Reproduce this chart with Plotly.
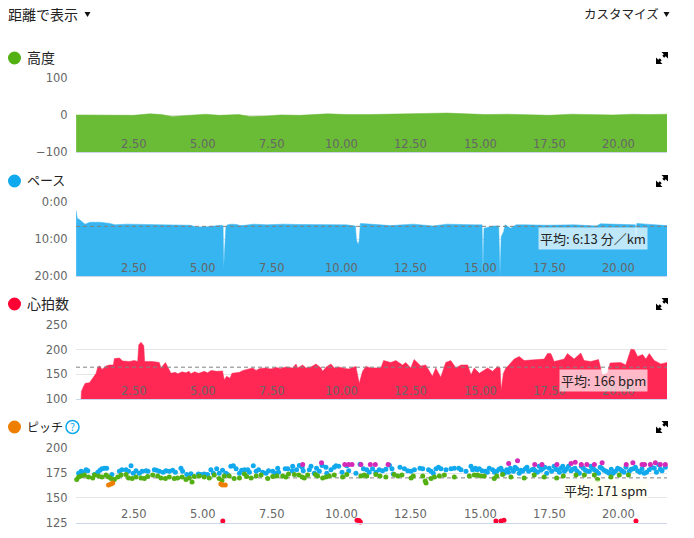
import plotly.graph_objects as go

W, H = 694, 538
X_RANGE = [0.425, 21.74]
TICKS_X = [2.5, 5, 7.5, 10, 12.5, 15, 17.5, 20]
TICK_X_TEXT = ["2.50", "5.00", "7.50", "10.00", "12.50", "15.00", "17.50", "20.00"]

elev_km = [.43,1,1.5,2,2.5,3.1,3.5,3.9,4.5,5.1,5.6,6.3,6.7,7.3,7.8,8.5,9.5,10.2,11,11.7,12.4,13,13.8,14.5,15.2,16,16.8,17.5,18.3,19,19.8,20.5,21.1,21.74]
elev_m = [1,1,2,1,0,4,2,-3,0,3,0,2,-3,-2,1,0,4,2,2,4,4,5,6,4,2,3,1,0,3,2,1,3,2,3]

pace_km = [.43,.47,.57,.75,.93,1.29,1.65,1.83,2.25,2.85,3.69,4.54,4.78,5.14,5.68,5.73,5.75,5.77,5.83,5.89,6.04,6.22,6.34,6.52,6.82,7.3,7.9,8.5,9.22,10.18,
           10.5,10.54,10.6,10.64,10.68,10.92,11.4,11.76,12.6,13.3,13.8,14.8,15.07,15.1,15.14,15.49,15.67,15.72,15.76,15.85,15.9,16.1,16.3,16.65,17.4,18.4,19.2,19.34,20.5,20.6,20.63,20.65,21,21.74]
pace_min = [2.25,4.3,4.8,5.9,5.4,5.4,5.7,6.1,5.9,6.0,6.2,6.2,6.7,6.6,6.2,6.4,18,15,6.8,6.1,5.9,6.0,6.3,6.2,5.9,6.1,5.9,6.0,6.1,6.1,
            6.4,10.2,11.5,10.3,5.7,5.9,6.1,6.3,5.9,6.4,5.9,6.1,6.1,20,7,6.4,6.4,20,9.3,7.9,6.1,7,6.1,6.1,6.2,6.1,6.4,5.8,6.1,6.1,12.2,5.7,5.9,6.3]

hr_km = [.61,.62,.69,.76,.91,1.03,1.15,1.21,1.29,1.36,1.51,1.63,1.77,1.81,1.99,2.11,2.35,2.53,2.65,2.69,2.77,2.87,2.90,3.19,3.43,3.49,3.65,3.79,3.85,4.0,4.1,4.25,4.39,4.5,4.57,4.7,4.85,5.05,5.17,5.3,5.5,5.71,5.77,5.86,5.98,6.05,6.32,6.45,6.56,6.7,6.80,6.92,7.05,7.28,7.45,7.64,7.8,8.0,8.24,8.36,8.42,8.60,8.72,8.9,9.08,9.26,9.32,9.45,9.62,9.74,9.9,10.04,10.25,10.52,10.64,10.76,10.88,
         11.06,11.42,11.52,11.78,11.96,12.20,12.32,12.50,12.62,12.86,13.04,13.22,13.28,13.40,13.58,13.76,13.94,14.13,14.31,14.55,14.67,14.79,14.97,15.27,15.45,15.63,15.72,15.76,15.84,15.93,15.99,16.23,16.41,16.59,16.95,17.31,17.43,17.55,17.67,18.03,18.15,18.39,18.63,18.75,18.99,19.27,19.41,19.59,19.69,20.07,20.25,20.44,20.56,20.68,20.86,20.98,21.10,21.28,21.52,21.74]
hr_bpm = [100,115,125,132,133,142,152,165,167,160,167,169,169,182,183,177,176,178,176,210,215,208,176,176,174,163,174,159,152,154,151,155,153,156,151,155,152,156,153,158,156,157,139,146,142,152,154,158,160,162,163,158,162,163,161,164,162,165,163,171,163,169,163,165,171,163,156,165,171,163,165,163,161,166,132,156,166,
          163,163,178,174,178,169,174,163,180,167,169,152,146,163,144,174,178,163,169,169,149,163,152,163,156,166,163,118,152,163,166,181,186,178,180,181,192,192,176,181,192,181,193,178,176,180,149,152,173,174,169,201,200,186,190,181,192,178,171,174]

blue_km = [.52,.61,.69,.79,.85,1.09,1.21,1.29,1.36,1.45,1.53,1.72,1.99,2.08,2.23,2.32,2.41,2.49,2.59,2.71,2.81,2.95,3.02,3.25,3.33,3.43,3.57,3.67,3.79,3.91,4.01,4.21,4.27,4.42,4.57,4.84,4.93,5.05,5.17,5.29,5.38,5.50,5.59,5.71,5.83,5.89,6.01,6.10,6.20,6.32,6.40,6.50,6.62,6.68,6.82,6.92,7.01,7.16,7.28,7.37,7.52,7.61,
           7.70,7.73,7.97,8.06,8.22,8.24,8.38,8.48,8.58,8.62,8.84,8.90,9.02,9.10,9.20,9.30,9.44,9.47,9.62,9.74,9.80,9.90,10.02,10.19,10.26,10.52,10.67,10.79,10.91,11.00,11.12,11.24,11.36,11.48,11.60,11.73,11.82,11.87,12.11,12.27,12.39,12.51,12.63,12.83,12.93,13.14,13.23,13.31,13.41,13.50,13.59,13.77,13.95,14.07,14.23,14.31,14.49,14.67,14.73,14.83,
           14.89,14.97,15.07,15.19,15.33,15.45,15.60,15.75,15.87,15.96,16.09,16.20,16.32,16.41,16.53,16.63,16.75,16.87,16.99,17.13,17.25,17.40,17.49,17.67,17.79,17.92,18.04,18.19,18.28,18.42,18.58,18.72,18.88,19.00,19.12,19.27,19.39,19.54,19.66,19.80,19.96,20.11,20.26,20.38,20.52,20.68,20.84,20.92,21.10,21.28,21.44,21.56,21.68,
           15.26,15.52,15.68,15.81,16.02,16.26,16.47,16.69,16.93,17.06,17.19,17.33,17.58,17.73,17.86,17.98,18.11,18.34,18.50,18.65,18.80,18.94,19.06,19.20,19.33,19.47,19.60,19.73,19.88,20.04,20.19,20.45,20.60,20.76,21.00,21.19,21.36,21.50]
blue_spm = [175,177,176,178.5,177.5,173.5,176,178,179.5,180,180,173.5,177,178.5,178.5,177,182.5,175,177.5,175,177,177.5,177,178.5,178,177,176,177.5,177,178,176,180,177,173.5,174.5,174,173.5,174,173.5,178.5,175,179.5,175,178,175,173.5,182,182.5,179.5,175,178,178.5,178.5,176,182.5,177,178.5,176,175,177.5,177,175,
            180,176,179.5,179.5,177.5,182,178.5,182.8,181,177.5,178.5,182,175,180,177,182.8,181,175,178.5,181,182.5,182,176,182.5,177.5,175,184,179.5,178.5,176,179.5,176,178.5,177.5,179,183,179.5,174,181,179.5,177.5,177,178.5,180,179.5,178.5,177,175,179.5,181,179.5,178.5,179.5,180,180,178.5,177,182,178.5,180,
            178.5,179.5,177.5,177,180,178.5,177,180,175,178.5,180,177,179.5,175,177,179.5,177,178.5,177.5,182,179.5,175,180,182,178.5,180,177,182,177.5,180,175,180,177,182,178.5,175,180,177,175,175,180,177.5,181,177,179.5,177.5,179.5,175,178.5,180,183.5,177.5,181,
            176,176,179,177,176,181,178,181,179,176,178,181,177,179,176,182,179,179,177,182,178,177,180,177,181,178,176,179,177,179,176,179,181,176,176,181,176,179]

green_km = [.45,.52,.61,.73,.88,1.03,1.09,1.24,1.36,1.51,1.60,1.69,1.81,1.93,2.05,2.23,2.32,2.45,2.59,2.77,2.89,3.01,3.19,3.37,3.49,3.65,3.79,3.97,4.09,4.25,4.39,4.51,4.61,4.69,4.87,5.05,5.23,5.41,5.59,5.69,5.77,5.95,6.13,6.32,6.50,6.58,6.74,6.92,7.10,7.34,7.52,
            7.67,7.88,8.00,8.09,8.30,8.46,8.58,8.66,8.78,9.06,9.14,9.32,9.44,9.56,9.74,10.04,10.19,10.70,10.82,10.91,11.24,11.39,11.60,11.90,12.03,12.18,12.51,12.59,12.93,13.02,13.05,13.23,13.35,13.53,13.71,14.07,14.61,14.79,
            14.91,15.03,15.15,15.51,15.60,15.81,16.11,16.59,16.95,17.31,17.76,18.00,18.46,18.76,19.12,19.24,19.72,20.02,20.35]
green_spm = [168.5,171,172,173,171,170,173,172,171,173,171,169.5,168.5,171,173,173.5,170,169.5,171,170,169.5,171.5,173,172,170,169.5,171,169.5,170,171,168.5,170,166,171.5,172,171,170,173,169.5,167.5,172,172,169.5,170,174,171.5,170,172,173,169.5,171.5,
             172,172,171,174,173.5,173,171,170,173,173.5,172,170,171,172,173,171,173.5,172,173,172,173.5,172,171,173.5,172,173,170,172,172,167,165,169.5,171,172,173,171,172,173,
             173,172,172,169.5,172,173.5,171,170,173,171,170,172,173,173,173,168.5,171,173,173]

magenta_km = [8.60,9.28,10.12,10.26,10.38,10.70,11.04,11.22,11.68,16.03,16.35,16.97,17.23,17.77,18.28,18.43,18.65,18.85,19.12,19.40,20.27,20.51,20.84,20.93,21.14,21.32,21.50,21.68]
magenta_spm = [183.8,185.5,183.8,183.8,183.8,183.8,183.8,183.8,183.8,184.8,187.5,183.8,183.8,183.8,184.8,186,183.8,183.8,183.8,185.5,183.8,185.5,183.8,183.8,183.8,185.5,183.8,183.8]
orange_km = [1.60,1.69,1.75,5.65,5.71,5.81]
orange_spm = [163,164,165,164,163,163]
red_km = [5.72,10.56,10.63,10.68,15.57,15.75,15.86,20.62]
red_spm = [126.6,127.5,127,125.5,126.5,126.5,127.5,126.5]

COL_ELEV, COL_PACE, COL_HR = "#6abb36", "#36b5f0", "#ff2855"
GREEN, BLUE, RED, ORANGE, MAGENTA = "#52b013", "#11a9ed", "#ff0035", "#ed7e00", "#d42ab8"
LAT = "DejaVu Sans, Noto Sans CJK JP"
JP = "Noto Sans CJK JP"

def paper(px, py):
    return px / W, 1 - py / H

def ax(letter, i):
    return letter if i == 1 else f"{letter}{i}"

panels = [
    dict(top=78.3, bot=152.3, rng=[-100, 100], vals=[-100, 0, 100], text=["−100", "0", "100"]),
    dict(top=202.3, bot=276.3, rng=[20, 0], vals=[0, 10, 20], text=["0:00", "10:00", "20:00"]),
    dict(top=325, bot=399, rng=[100, 250], vals=[100, 150, 200, 250], text=["100", "150", "200", "250"]),
    dict(top=448.4, bot=522.6, rng=[125, 200], vals=[125, 150, 175, 200], text=["125", "150", "175", "200"]),
]

fig = go.Figure()
lay = dict(width=W, height=H, margin=dict(l=0, r=0, t=0, b=0), paper_bgcolor="white", plot_bgcolor="white",
           showlegend=False, hovermode=False, font=dict(family=LAT, color="#666666"))
shapes, anns = [], []
for i, p in enumerate(panels, 1):
    lay[f"xaxis{i}"] = dict(domain=[76 / W, 667 / W], range=X_RANGE, anchor=ax("y", i), tickvals=TICKS_X, showticklabels=False,
                            ticks="", showgrid=False, zeroline=False, showline=True, automargin=False,
                            linecolor="#ccd6eb", linewidth=1)
    lay[f"yaxis{i}"] = dict(domain=[1 - p["bot"] / H, 1 - p["top"] / H], range=p["rng"], anchor=ax("x", i), tickvals=p["vals"],
                            ticktext=p["text"], showgrid=True, gridcolor="#e6e6e6", gridwidth=1, zeroline=False, showline=False,
                            automargin=False, ticks="outside", ticklen=5, tickcolor="rgba(0,0,0,0)",
                            tickfont=dict(size=11.5, color="#666666", family=LAT))
    for v, t in zip(TICKS_X, TICK_X_TEXT):
        anns.append(dict(text=t, x=v, y=0, xref=ax("x", i), yref=ax("y", i) + " domain", xanchor="center", yanchor="middle", yshift=8.5,
                         showarrow=False, font=dict(family=LAT, size=11.5, color="#666666")))

def area(x, y, i, color, base):
    fig.add_trace(go.Scatter(x=x, y=[base] * len(x), mode="lines", line=dict(width=0), xaxis=ax("x", i), yaxis=ax("y", i)))
    fig.add_trace(go.Scatter(x=x, y=y, mode="lines", line=dict(width=0.5, color=color), fill="tonexty", fillcolor=color,
                             xaxis=ax("x", i), yaxis=ax("y", i)))

area(elev_km, elev_m, 1, COL_ELEV, -100)
area(pace_km, pace_min, 2, COL_PACE, 20)
area(hr_km, hr_bpm, 3, COL_HR, 100)
for x, y, c in [(blue_km, blue_spm, BLUE), (green_km, green_spm, GREEN), (magenta_km, magenta_spm, MAGENTA),
                (orange_km, orange_spm, ORANGE), (red_km, red_spm, RED)]:
    fig.add_trace(go.Scatter(x=x, y=y, mode="markers", marker=dict(size=5, color=c, line=dict(width=0)),
                             xaxis="x4", yaxis="y4", cliponaxis=False))

for i, v, layer in [(2, 6.5, "above"), (3, 164.5, "above"), (4, 170.2, "below")]:
    shapes.append(dict(type="line", xref=ax("x", i) + " domain", yref=ax("y", i), x0=0, x1=1, y0=v, y1=v, layer=layer,
                       line=dict(color="#808080", width=1, dash="4px,3px")))

titles = [("高度", 58, GREEN, 14), ("ペース", 181, BLUE, 13), ("心拍数", 304, RED, 14), ("ピッチ", 427, ORANGE, 12)]
def note(text, px, py, anchor="left", size=14, color="#222222", **kw):
    x, y = paper(px, py)
    anns.append(dict(text=text, x=x, y=y, xref="paper", yref="paper", xanchor=anchor, yanchor="middle", showarrow=False,
                     font=dict(family=JP, size=size, color=color), **kw))

def poly(points, **kw):
    d = "M" + " L".join("{:.5f},{:.5f}".format(*paper(a, b)) for a, b in points) + " Z"
    shapes.append(dict(type="path", xref="paper", yref="paper", path=d, **kw))

for name, cy, col, fs in titles:
    x0, y0 = paper(8, cy + 6.5)
    x1, y1 = paper(21, cy - 6.5)
    shapes.append(dict(type="circle", xref="paper", yref="paper", x0=x0, x1=x1, y0=y0, y1=y1, fillcolor=col, line=dict(width=0)))
    note(name, 25, cy - 1, size=fs)
    t = cy - 6
    poly([(668, t), (661.5, t), (663.8, t + 2.3), (662.3, t + 3.8), (664.2, t + 5.7), (665.7, t + 4.2), (668, t + 6.5)], fillcolor="black", line=dict(width=0))
    poly([(656, t + 12), (662.5, t + 12), (660.2, t + 9.7), (661.7, t + 8.2), (659.8, t + 6.3), (658.3, t + 7.8), (656, t + 5.5)], fillcolor="black", line=dict(width=0))

note("距離で表示", 6, 14, size=14)
note("カスタマイズ", 582, 14, size=12.5)
for tx in (87.5, 666.5):
    poly([(tx - 3, 12), (tx + 3, 12), (tx, 17)], fillcolor="#111111", line=dict(width=0))

hx0, hy0 = paper(66, 433.5)
hx1, hy1 = paper(79, 420.5)
shapes.append(dict(type="circle", xref="paper", yref="paper", x0=hx0, x1=hx1, y0=hy0, y1=hy1, fillcolor="white", line=dict(color=BLUE, width=1.5)))
note("?", 72.5, 427, anchor="center", size=10.5, color=BLUE)

note("平均: 6:13 分／km", 648, 239, anchor="right", size=13, bgcolor="rgba(255,255,255,0.68)", borderpad=1)
note("平均: 166 bpm", 648, 380, anchor="right", size=13, bgcolor="rgba(255,255,255,0.68)", borderpad=1)
note("平均: 171 spm", 648, 490, anchor="right", size=13, bgcolor="rgba(255,255,240,0.7)", borderpad=0)

lay["shapes"] = shapes
lay["annotations"] = anns
fig.update_layout(**lay)
fig.write_html("out.html", config=dict(displayModeBar=False), post_script="document.body.style.margin='0';")
